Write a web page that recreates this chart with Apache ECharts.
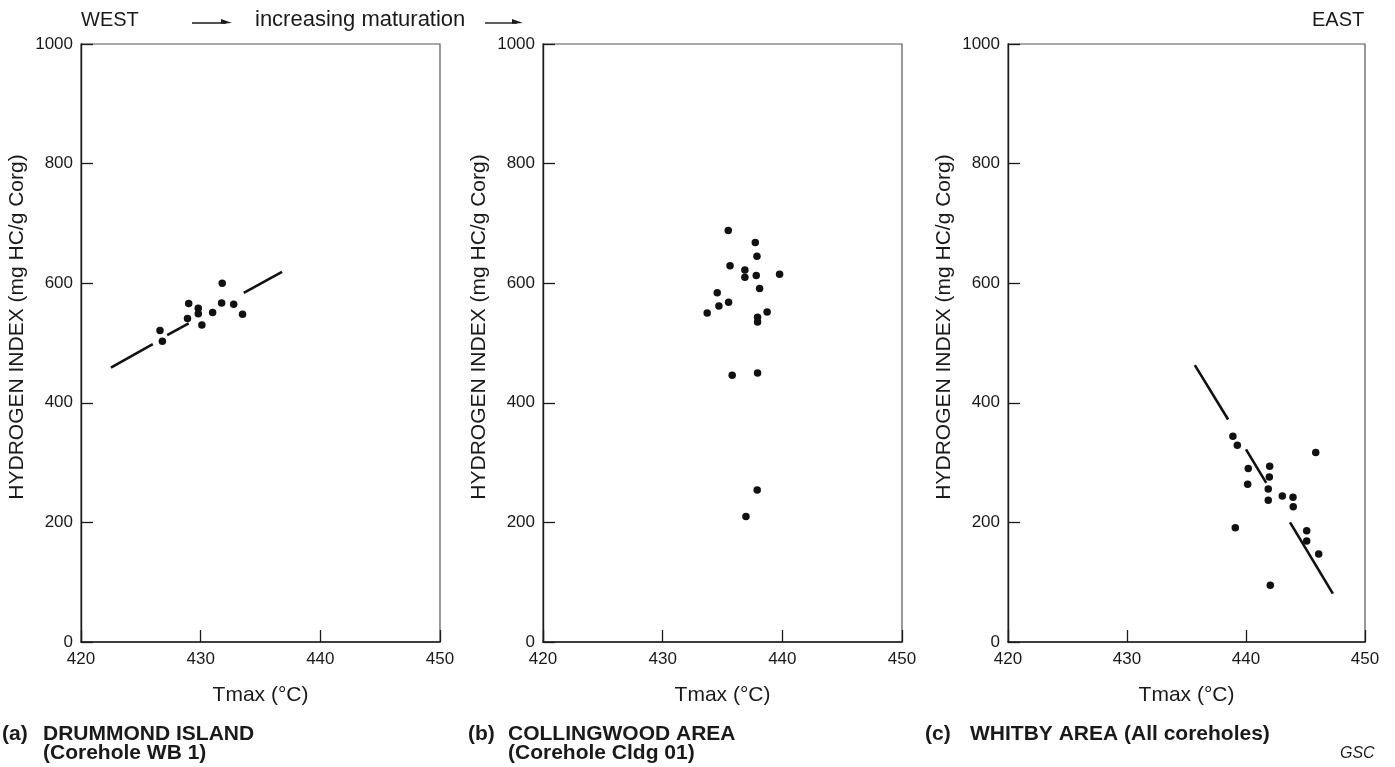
<!DOCTYPE html>
<html>
<head>
<meta charset="utf-8">
<script src="https://cdn.jsdelivr.net/npm/echarts@6/dist/echarts.min.js"></script>
<style>
  html, body { margin: 0; padding: 0; background: #fff; }
  #chart { width: 1395px; height: 767px; }
</style>
</head>
<body>
<div id="chart"></div>
<script>
// Tmax (°C) against hydrogen index for three Ordovician shale localities
const xTicks = [420, 430, 440, 450];
const yTicks = [0, 200, 400, 600, 800, 1000];

// (a) Drummond Island, corehole WB 1
const drummondT  = [431.8, 429.0, 429.8, 429.8, 431.0, 431.75, 432.76, 433.5, 428.9, 430.1, 426.6, 426.8];
const drummondHI = [600, 566, 558, 549, 551, 567, 565, 548, 541, 530, 521, 503];
// regression line, drawn broken around the points
const drummondFit = [
  [[422.5, 459], [426.0, 498]],
  [[427.2, 513], [429.0, 533]],
  [[433.6, 584], [436.8, 619]]
];

// (b) Collingwood area, corehole Cldg 01
const collingwoodT  = [435.48, 437.74, 437.88, 435.63, 436.87, 436.87, 437.82, 439.77, 438.1, 434.56,
                       434.7, 435.51, 433.72, 438.73, 437.93, 437.93, 435.81, 437.93, 437.9, 436.96];
const collingwoodHI = [688, 668, 645, 629, 622, 610, 613, 615, 591, 584,
                       562, 568, 550, 552, 543, 535, 446, 450, 254, 210];

// (c) Whitby area, all coreholes
const whitbyT  = [438.9, 439.27, 445.86, 440.19, 441.99, 441.96, 440.14, 441.87, 443.05, 443.95,
                  441.87, 443.97, 439.1, 445.1, 445.1, 446.11, 442.04];
const whitbyHI = [344, 329, 317, 290, 294, 276, 264, 256, 244, 242,
                  237, 226, 191, 186, 169, 147, 95];
const whitbyFit = [
  [[435.7, 463], [438.5, 372]],
  [[440.0, 322], [441.7, 266]],
  [[443.7, 200], [447.3, 81]]
];

const xName = 'Tmax (°C)';
const yName = 'HYDROGEN INDEX (mg HC/g Corg)';
const panelCaptions = [
  ['(a)', 'DRUMMOND ISLAND', '(Corehole WB 1)'],
  ['(b)', 'COLLINGWOOD AREA', '(Corehole Cldg 01)'],
  ['(c)', 'WHITBY AREA (All coreholes)', '']
];

const FONT = '"Liberation Sans", Arial, Helvetica, sans-serif';
const INK = '#1a1a1a';

const grids = [
  { left: 81,   top: 44, width: 359, height: 598 },
  { left: 543,  top: 44, width: 359, height: 598 },
  { left: 1008, top: 44, width: 357, height: 598 }
];

function zip(xs, ys) { return xs.map((x, i) => [x, ys[i]]); }

const xAxes = grids.map((g, i) => ({
  gridIndex: i, type: 'value',
  min: xTicks[0], max: xTicks[xTicks.length - 1], interval: 10,
  name: xName, nameLocation: 'middle', nameGap: 43,
  nameTextStyle: { fontFamily: FONT, fontSize: 21, color: INK },
  axisLine: { show: true, lineStyle: { color: INK, width: 1.6 } },
  axisTick: { show: true, inside: true, length: 12, lineStyle: { color: INK, width: 1.3 } },
  axisLabel: { fontFamily: FONT, fontSize: 17, color: INK, margin: 9,
               formatter: v => String(v) },
  splitLine: { show: false }
}));

const yAxes = grids.map((g, i) => ({
  gridIndex: i, type: 'value',
  min: yTicks[0], max: yTicks[yTicks.length - 1], interval: 200,
  name: yName, nameLocation: 'middle', nameGap: 53,
  nameTextStyle: { fontFamily: FONT, fontSize: 21, color: INK, padding: [0, 0, 0, 32] },
  axisLine: { show: true, lineStyle: { color: INK, width: 1.4 } },
  axisTick: { show: true, inside: true, length: 12, lineStyle: { color: INK, width: 1.3 } },
  axisLabel: { fontFamily: FONT, fontSize: 17, color: INK, margin: 8,
               formatter: v => String(v) },
  splitLine: { show: false }
}));

function scatter(i, xs, ys) {
  return {
    type: 'scatter', xAxisIndex: i, yAxisIndex: i,
    data: zip(xs, ys), symbol: 'circle', symbolSize: 7.5,
    itemStyle: { color: '#111', opacity: 1 }, silent: true
  };
}
function fit(i, segs) {
  return {
    type: 'lines', coordinateSystem: 'cartesian2d', xAxisIndex: i, yAxisIndex: i,
    data: segs.map(s => ({ coords: s })),
    lineStyle: { color: '#111', width: 2.6, opacity: 1 }, silent: true
  };
}

// header and panel captions
const graphics = [];
function txt(x, y, s, font) {
  graphics.push({
    type: 'text', left: x, top: y,
    style: { text: s, font: font, fill: INK }
  });
}
function arrow(x1, x2, y) {
  graphics.push({ type: 'line', shape: { x1: x1, y1: y, x2: x2 - 6, y2: y },
    style: { stroke: INK, lineWidth: 1.4 } });
  graphics.push({ type: 'polygon', shape: { points: [[x2 - 11, y - 4], [x2, y], [x2 - 11, y + 0.8]] },
    style: { fill: INK } });
}
txt(81, 10, 'WEST', '20px ' + FONT);
arrow(192, 232, 23);
txt(255, 9, 'increasing maturation', '22px ' + FONT);
arrow(485, 523, 23);
txt(1312, 10, 'EAST', '20px ' + FONT);

const capX = [[2, 43], [468, 508], [925, 970]];
panelCaptions.forEach((c, i) => {
  txt(capX[i][0], 724, c[0], 'bold 21px ' + FONT);
  txt(capX[i][1], 724, c[1], 'bold 21px ' + FONT);
  if (c[2]) txt(capX[i][1], 743, c[2], 'bold 21px ' + FONT);
});
txt(1340, 746, 'GSC', 'italic 16px ' + FONT);

const chart = echarts.init(document.getElementById('chart'), null, { renderer: 'canvas' });
chart.setOption({
  animation: false,
  backgroundColor: '#fff',
  grid: grids.map(g => Object.assign({ show: true, borderColor: '#555', borderWidth: 1.2,
                                       backgroundColor: 'transparent' }, g)),
  xAxis: xAxes,
  yAxis: yAxes,
  series: [
    scatter(0, drummondT, drummondHI),
    fit(0, drummondFit),
    scatter(1, collingwoodT, collingwoodHI),
    scatter(2, whitbyT, whitbyHI),
    fit(2, whitbyFit)
  ],
  graphic: graphics
});
</script>
</body>
</html>
